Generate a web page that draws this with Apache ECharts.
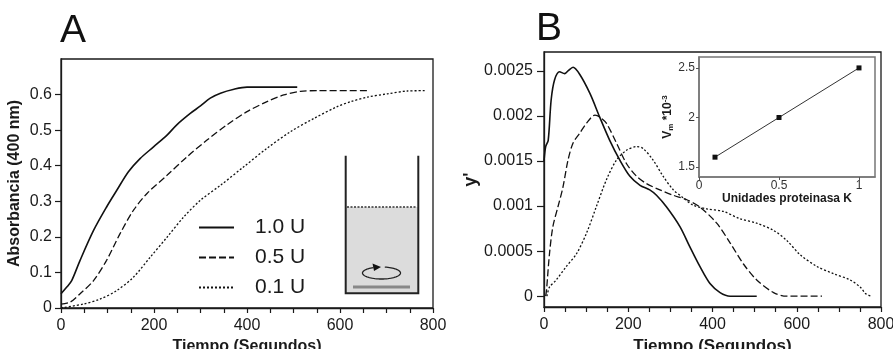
<!DOCTYPE html>
<html>
<head>
<meta charset="utf-8">
<script src="https://cdn.jsdelivr.net/npm/echarts@6/dist/echarts.min.js"></script>
<style>
html,body{margin:0;padding:0;background:#fff;}
#chart{width:893px;height:349px;}
</style>
</head>
<body>
<div id="chart"></div>
<script>
// ---------- DATA ----------
const seriesNames = ['1.0 U', '0.5 U', '0.1 U'];

// Panel A: absorbance (400 nm) vs time (s)
const tA1 = [0, 12, 23, 41, 70, 98, 120, 145, 170, 199, 228, 249, 278, 300, 321, 343, 372, 400, 508];
const absA1 = [0.040, 0.058, 0.077, 0.134, 0.218, 0.284, 0.331, 0.383, 0.420, 0.453, 0.486, 0.515, 0.547, 0.568, 0.590, 0.604, 0.615, 0.621, 0.621];

const tA2 = [0, 19, 41, 70, 98, 127, 156, 185, 228, 271, 314, 357, 400, 443, 479, 515, 551, 663];
const absA2 = [0.011, 0.016, 0.040, 0.077, 0.134, 0.209, 0.275, 0.322, 0.373, 0.425, 0.472, 0.515, 0.552, 0.580, 0.599, 0.609, 0.611, 0.611];

const tA3 = [0, 48, 84, 120, 156, 192, 228, 264, 300, 343, 393, 443, 494, 544, 594, 623, 659, 702, 745, 785];
const absA3 = [0.000, 0.011, 0.025, 0.049, 0.087, 0.143, 0.199, 0.256, 0.303, 0.345, 0.397, 0.449, 0.496, 0.533, 0.566, 0.580, 0.593, 0.602, 0.610, 0.611];

// Panel B: derivative y' vs time (s)
const tB1 = [0, 4, 10, 17, 25, 37, 49, 57, 69, 85, 109, 132, 156, 180, 204, 228, 251, 267, 291, 323, 346, 370, 394, 418, 442, 505];
const dB1 = [0.00150, 0.00166, 0.00173, 0.00218, 0.00240, 0.00249, 0.00247, 0.00250, 0.00254, 0.00246, 0.00225, 0.00199, 0.00173, 0.00151, 0.00133, 0.00123, 0.00118, 0.00112, 0.00099, 0.00077, 0.00055, 0.00033, 0.00014, 0.00004, 0.0, 0.0];

const tB2 = [4, 6, 13, 21, 33, 45, 57, 69, 85, 101, 121, 132, 148, 172, 196, 220, 243, 275, 307, 339, 370, 410, 442, 473, 505, 545, 576, 660];
const dB2 = [0.0, 0.00007, 0.00047, 0.00077, 0.00099, 0.00121, 0.00151, 0.00170, 0.00181, 0.00192, 0.00201, 0.00199, 0.00192, 0.00170, 0.00147, 0.00133, 0.00125, 0.00118, 0.00112, 0.00107, 0.00099, 0.00081, 0.00059, 0.00036, 0.00018, 0.00004, 0.0, 0.0];

const tB3 = [7, 13, 29, 53, 77, 101, 124, 148, 172, 196, 220, 235, 259, 283, 307, 331, 354, 386, 426, 465, 505, 545, 576, 608, 648, 687, 727, 751, 763, 771, 778];
const dB3 = [0.0, 0.00010, 0.00018, 0.00033, 0.00047, 0.00070, 0.00099, 0.00129, 0.00151, 0.00162, 0.00166, 0.00164, 0.00151, 0.00133, 0.00118, 0.00109, 0.00101, 0.00097, 0.00094, 0.00086, 0.00081, 0.00073, 0.00062, 0.00046, 0.00033, 0.00025, 0.00018, 0.00010, 0.00003, 0.00001, 0.0];

// Inset: Vm*10^-3 vs units of proteinase K
const insetUnits = [0.1, 0.5, 1.0];
const insetVm = [1.6, 2.0, 2.5];

// Tick values
const xLabelValues = [0, 200, 400, 600, 800];
const xTickValues = [0, 50, 100, 150, 200, 250, 300, 350, 400, 450, 500, 550, 600, 650, 700, 750, 800];
const yLabelsA = [0, 0.1, 0.2, 0.3, 0.4, 0.5, 0.6];
const yLabelsB = [0, 0.0005, 0.001, 0.0015, 0.002, 0.0025];
const xLabelsInset = [0, 0.5, 1];
const yLabelsInset = [1.5, 2, 2.5];

// ---------- HELPERS ----------
const zip = (xs, ys) => xs.map((x, i) => [x, ys[i]]);
const FONT = 'Liberation Sans';
const INK = '#1a1a1a';

const lineStyles = [
  { color: '#111', width: 1.6, type: 'solid' },
  { color: '#111', width: 1.3, type: [7, 3] },
  { color: '#111', width: 1.3, type: [2, 2] }
];

function mainX(gridIndex, nameSize, labelSize) {
  return {
    type: 'value', gridIndex, min: 0, max: 800,
    name: 'Tiempo (Segundos)', nameLocation: 'middle', nameGap: 26,
    nameTextStyle: { fontFamily: FONT, fontWeight: 'bold', fontSize: nameSize, color: INK },
    axisLine: { show: true, onZero: false, lineStyle: { color: INK, width: 1.3 } },
    axisTick: { show: true, length: 5, customValues: xTickValues, lineStyle: { color: INK, width: 1.2 } },
    axisLabel: { customValues: xLabelValues, margin: 10, fontFamily: FONT, fontSize: labelSize, color: INK, formatter: v => String(v) },
    splitLine: { show: false }
  };
}

const ellipsePts = [];
for (let a = -80; a <= 245; a += 5) {
  const r = a * Math.PI / 180;
  ellipsePts.push([381.5 + 19 * Math.cos(r), 273 + 6 * Math.sin(r)]);
}

const option = {
  animation: false,
  backgroundColor: '#fff',
  textStyle: { fontFamily: FONT },
  grid: [
    { left: 61, right: 460, top: 59, bottom: 41, outerBoundsMode: 'none', containLabel: false, show: true, borderColor: INK, borderWidth: 1.3, backgroundColor: 'transparent' },
    { left: 544, right: 12, top: 52, bottom: 42, outerBoundsMode: 'none', containLabel: false, show: true, borderColor: INK, borderWidth: 1.3, backgroundColor: 'transparent' },
    { left: 699, right: 18, top: 57, bottom: 172, outerBoundsMode: 'none', containLabel: false, show: true, borderColor: '#777', borderWidth: 1.5, backgroundColor: '#fff' }
  ],
  xAxis: [
    mainX(0, 16, 16),
    mainX(1, 17, 16),
    {
      type: 'value', gridIndex: 2, min: 0, max: 1.1,
      name: 'Unidades proteinasa K', nameLocation: 'middle', nameGap: 16,
      nameTextStyle: { fontFamily: FONT, fontWeight: 'bold', fontSize: 12, color: INK },
      axisLine: { show: true, onZero: false, lineStyle: { color: '#777', width: 1.5 } },
      axisTick: { show: true, length: 3, customValues: xLabelsInset, lineStyle: { color: '#555' } },
      axisLabel: { customValues: xLabelsInset, margin: 3, fontFamily: FONT, fontSize: 12, color: '#333', formatter: v => String(v) },
      splitLine: { show: false }
    }
  ],
  yAxis: [
    {
      type: 'value', gridIndex: 0, min: 0, max: 0.7,
      name: 'Absorbancia (400 nm)', nameLocation: 'middle', nameGap: 38,
      nameTextStyle: { fontFamily: FONT, fontWeight: 'bold', fontSize: 16, color: INK },
      axisLine: { show: true, lineStyle: { color: INK, width: 1.3 } },
      axisTick: { show: true, length: 6, customValues: yLabelsA, lineStyle: { color: INK, width: 1.2 } },
      axisLabel: { customValues: yLabelsA, margin: 9, fontFamily: FONT, fontSize: 16, color: INK, formatter: v => String(v) },
      splitLine: { show: false }
    },
    {
      type: 'value', gridIndex: 1, min: -0.00012, max: 0.00271,
      name: "y'", nameLocation: 'middle', nameGap: 64,
      nameTextStyle: { fontFamily: FONT, fontWeight: 'bold', fontSize: 18, color: INK },
      axisLine: { show: true, onZero: false, lineStyle: { color: INK, width: 1.3 } },
      axisTick: { show: true, length: 7, customValues: yLabelsB, lineStyle: { color: INK, width: 1.2 } },
      axisLabel: { customValues: yLabelsB, margin: 11, fontFamily: FONT, fontSize: 16, color: INK, formatter: v => String(v) },
      splitLine: { show: false }
    },
    {
      type: 'value', gridIndex: 2, min: 1.4, max: 2.61,
      name: '{a|V}{s|m}{a| *10}{p|-3}', nameLocation: 'middle', nameGap: 22,
      nameTextStyle: {
        fontFamily: FONT, fontWeight: 'bold', fontSize: 12, color: INK,
        rich: {
          a: { fontFamily: FONT, fontWeight: 'bold', fontSize: 12, color: INK },
          s: { fontFamily: FONT, fontWeight: 'bold', fontSize: 8, color: INK, verticalAlign: 'bottom', padding: [6, 0, 0, 0] },
          p: { fontFamily: FONT, fontWeight: 'bold', fontSize: 8, color: INK, verticalAlign: 'top', padding: [0, 0, 6, 0] }
        }
      },
      axisLine: { show: true, onZero: false, lineStyle: { color: '#777', width: 1.5 } },
      axisTick: { show: true, length: 3, customValues: yLabelsInset, lineStyle: { color: '#555' } },
      axisLabel: { customValues: yLabelsInset, margin: 4, fontFamily: FONT, fontSize: 12, color: '#333', formatter: v => String(v) },
      splitLine: { show: false }
    }
  ],
  legend: {
    data: seriesNames,
    orient: 'vertical',
    left: 198, top: 217,
    padding: 0,
    itemWidth: 35, itemHeight: 20, itemGap: 9,
    selectedMode: false,
    itemStyle: { opacity: 0, borderWidth: 0 },
    textStyle: { fontFamily: FONT, fontSize: 21, color: INK, padding: [0, 0, 0, 16] }
  },
  series: [
    { name: seriesNames[0], type: 'line', xAxisIndex: 0, yAxisIndex: 0, data: zip(tA1, absA1), symbol: 'none', smooth: 0.3, lineStyle: lineStyles[0], itemStyle: { color: '#111' } },
    { name: seriesNames[1], type: 'line', xAxisIndex: 0, yAxisIndex: 0, data: zip(tA2, absA2), symbol: 'none', smooth: 0.3, lineStyle: lineStyles[1], itemStyle: { color: '#111' } },
    { name: seriesNames[2], type: 'line', xAxisIndex: 0, yAxisIndex: 0, data: zip(tA3, absA3), symbol: 'none', smooth: 0.3, lineStyle: lineStyles[2], itemStyle: { color: '#111' } },
    { name: seriesNames[0], type: 'line', xAxisIndex: 1, yAxisIndex: 1, data: zip(tB1, dB1), symbol: 'none', smooth: 0.3, lineStyle: lineStyles[0], itemStyle: { color: '#111' } },
    { name: seriesNames[1], type: 'line', xAxisIndex: 1, yAxisIndex: 1, data: zip(tB2, dB2), symbol: 'none', smooth: 0.3, lineStyle: lineStyles[1], itemStyle: { color: '#111' } },
    { name: seriesNames[2], type: 'line', xAxisIndex: 1, yAxisIndex: 1, data: zip(tB3, dB3), symbol: 'none', smooth: 0.3, lineStyle: lineStyles[2], itemStyle: { color: '#111' } },
    { name: 'Vm', type: 'line', xAxisIndex: 2, yAxisIndex: 2, data: zip(insetUnits, insetVm), symbol: 'rect', symbolSize: 5, lineStyle: { color: '#333', width: 1 }, itemStyle: { color: '#111' }, z: 5 }
  ],
  graphic: [
    { type: 'text', left: 60, top: 12, style: { text: 'A', fontFamily: FONT, fontSize: 39, fill: '#111' } },
    { type: 'text', left: 536, top: 10, style: { text: 'B', fontFamily: FONT, fontSize: 39, fill: '#111' } },
    // beaker illustration
    { type: 'rect', shape: { x: 346, y: 207, width: 72, height: 86 }, style: { fill: '#dcdcdc' }, z: 10 },
    { type: 'line', shape: { x1: 347, y1: 207, x2: 417, y2: 207 }, style: { stroke: '#333', lineWidth: 1.5, lineDash: [2, 1.5] }, z: 11 },
    { type: 'rect', shape: { x: 353, y: 285.5, width: 57, height: 3 }, style: { fill: '#888' }, z: 11 },
    { type: 'polyline', shape: { points: ellipsePts }, style: { stroke: '#222', lineWidth: 1.3, fill: null }, z: 11 },
    { type: 'polygon', shape: { points: [[381, 267], [372.5, 263.5], [374, 271]] }, style: { fill: '#111' }, z: 11 },
    { type: 'polyline', shape: { points: [[345.7, 155.7], [345.7, 293.3], [418.3, 293.3], [418.3, 155.7]] }, style: { stroke: '#222', lineWidth: 2, fill: null }, z: 12 }
  ]
};

const chart = echarts.init(document.getElementById('chart'), null, { renderer: 'canvas' });
chart.setOption(option);
</script>
</body>
</html>
